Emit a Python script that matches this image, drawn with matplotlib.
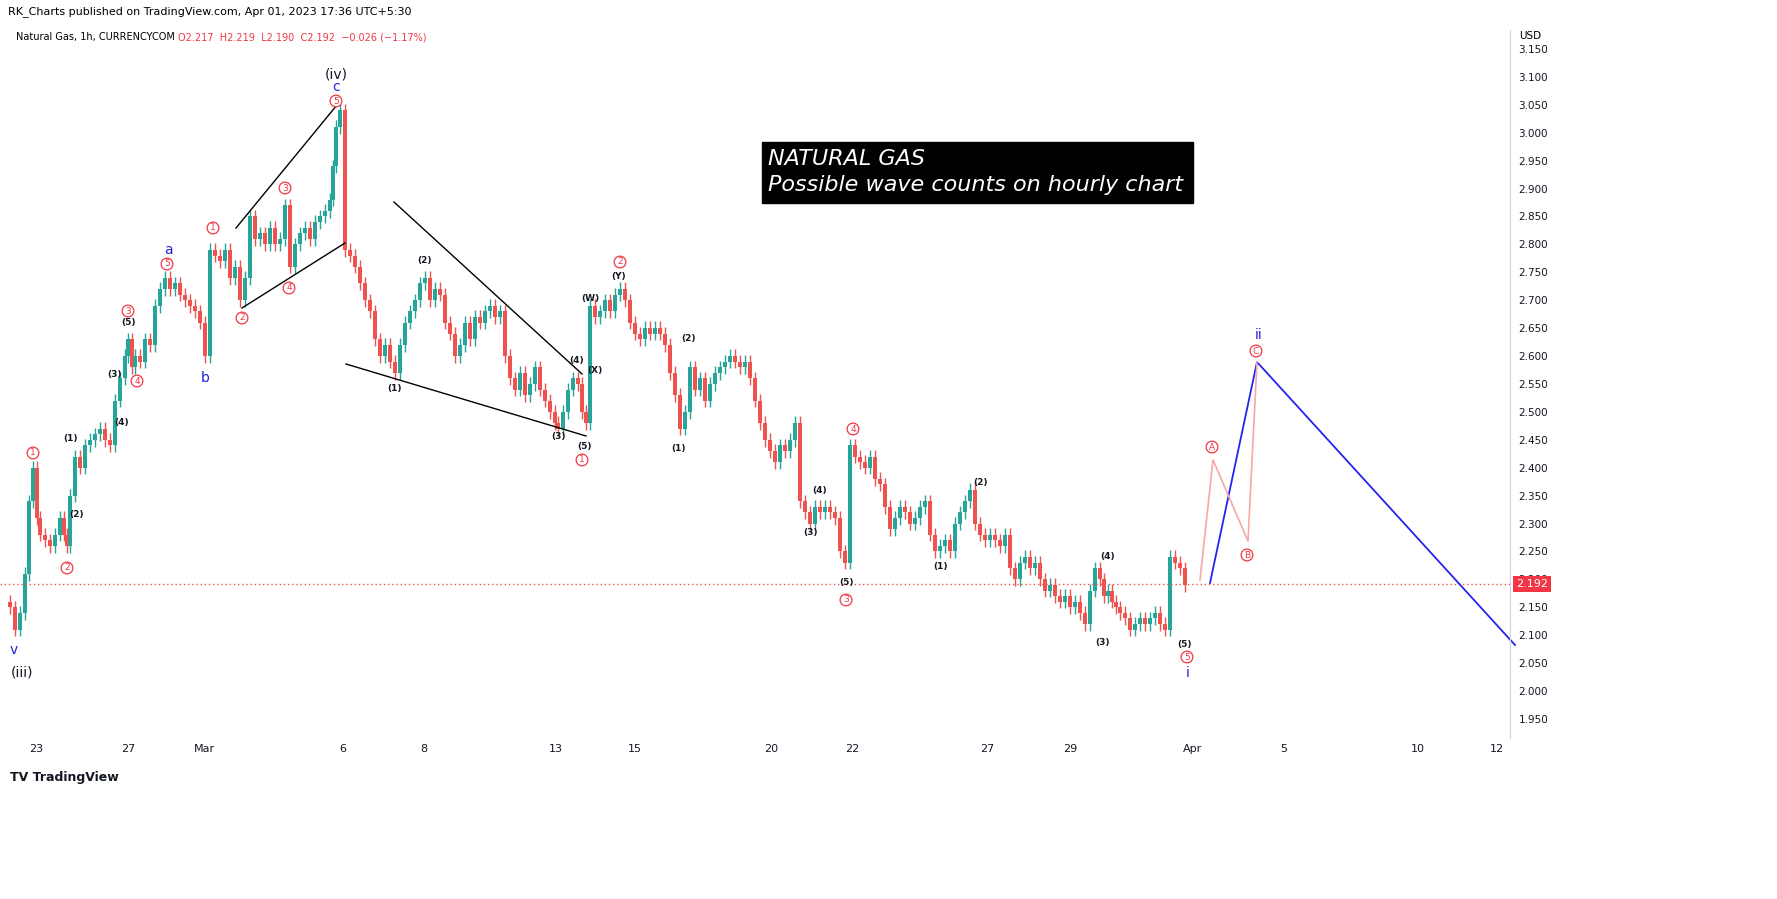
import matplotlib
matplotlib.use("Agg")
import matplotlib.pyplot as plt
from matplotlib.patches import Rectangle

# time axis positions (chart units) and closes
xs = [10,15,20,25,29,33,37,40,45,50,55,60,64,67,70,75,80,85,90,95,100,105,110,115,120,125,128,132,135,140,145,150,155,160,165,170,175,180,185,190,195,200,205,210,215,220,225,230,235,240,245,250,255,260,265,270,275,280,285,290,295,300,305,310,315,320,325,330,333,336,340,345,350,355,360,365,370,375,380,385,390,395,400,405,410,415,420,425,430,435,440,445,450,455,460,465,470,475,480,485,490,495,500,505,510,515,520,525,530,535,540,545,550,555,558,563,568,573,578,582,586,590,595,600,605,610,615,620,625,630,635,640,645,650,655,660,665,670,675,680,685,690,695,700,705,710,715,720,725,730,735,740,745,750,755,760,765,770,775,780,785,790,795,800,805,810,815,820,825,830,835,840,845,850,855,860,865,870,875,880,885,890,895,900,905,910,915,920,925,930,935,940,945,950,955,960,965,970,975,980,985,990,995,1000,1005,1010,1015,1020,1025,1030,1035,1040,1045,1050,1055,1060,1065,1070,1075,1080,1085,1090,1095,1100,1104,1108,1112,1116,1120,1125,1130,1135,1140,1145,1150,1155,1160,1165,1170,1175,1180,1185,1189,1193,1197,1201]
closes = [2.15,2.11,2.14,2.21,2.34,2.40,2.31,2.28,2.27,2.26,2.28,2.31,2.28,2.26,2.35,2.42,2.40,2.44,2.45,2.46,2.47,2.45,2.44,2.52,2.56,2.60,2.63,2.58,2.60,2.59,2.63,2.62,2.69,2.72,2.74,2.72,2.73,2.71,2.70,2.69,2.68,2.66,2.60,2.79,2.78,2.77,2.79,2.74,2.76,2.70,2.74,2.85,2.81,2.82,2.80,2.83,2.80,2.81,2.87,2.76,2.80,2.82,2.83,2.81,2.84,2.85,2.86,2.88,2.94,3.01,3.04,2.79,2.78,2.76,2.73,2.70,2.68,2.63,2.60,2.62,2.59,2.57,2.62,2.66,2.68,2.70,2.73,2.74,2.70,2.72,2.71,2.66,2.64,2.60,2.62,2.66,2.63,2.67,2.66,2.68,2.69,2.67,2.68,2.60,2.56,2.54,2.57,2.53,2.55,2.58,2.54,2.52,2.50,2.48,2.47,2.50,2.54,2.56,2.55,2.50,2.48,2.69,2.67,2.68,2.70,2.68,2.71,2.72,2.70,2.66,2.64,2.63,2.65,2.64,2.65,2.64,2.62,2.57,2.53,2.47,2.50,2.58,2.54,2.56,2.52,2.55,2.57,2.58,2.59,2.60,2.59,2.58,2.59,2.56,2.52,2.48,2.45,2.43,2.41,2.44,2.43,2.45,2.48,2.34,2.32,2.30,2.33,2.32,2.33,2.32,2.31,2.25,2.23,2.44,2.42,2.41,2.40,2.42,2.38,2.37,2.33,2.29,2.31,2.33,2.32,2.30,2.31,2.33,2.34,2.28,2.25,2.26,2.27,2.25,2.30,2.32,2.34,2.36,2.30,2.28,2.27,2.28,2.27,2.26,2.28,2.22,2.20,2.23,2.24,2.22,2.23,2.20,2.18,2.19,2.17,2.16,2.17,2.15,2.16,2.14,2.12,2.18,2.22,2.20,2.17,2.18,2.16,2.15,2.14,2.13,2.11,2.12,2.13,2.12,2.13,2.14,2.12,2.11,2.24,2.23,2.22,2.19]
last_price = 2.192
tick_pos = [36,128,204,343,424,556,635,771,852,987,1070,1193,1284,1418,1497]
tick_lbl = ["23","27","Mar","6","8","13","15","20","22","27","29","Apr","5","10","12"]
price_ticks = [1.95+0.05*i for i in range(25)]

W, H = 1777, 899
fig = plt.figure(figsize=(W/100, H/100), dpi=100)
ax = fig.add_axes([0, 1-738/H, 1510/W, 708/H])
def P(ypx):
    return 3.15 - (ypx-49)/558.3
ax.set_xlim(0, 1510)
ax.set_ylim(P(738), P(30))

prev = closes[0] + 0.01
for x, c in zip(xs, closes):
    o = prev
    col = "#26a69a" if c >= o else "#ef5350"
    ax.vlines(x, min(o, c) - 0.012, max(o, c) + 0.012, color=col, lw=1)
    ax.add_patch(Rectangle((x-1.8, min(o, c)), 3.6, max(abs(c-o), 0.002), color=col, lw=0))
    prev = c

ax.axhline(last_price, color="#ef5350", ls=(0, (1, 2)), lw=1)

ax.yaxis.tick_right()
ax.set_yticks(price_ticks)
ax.set_yticklabels([f"{p:.3f}" for p in price_ticks], fontsize=7.5, color="#131722")
ax.set_xticks(tick_pos)
ax.set_xticklabels(tick_lbl, fontsize=8, color="#131722")
ax.tick_params(axis="x", length=0, pad=4)
ax.tick_params(axis="y", length=0, pad=6)
for s in ["top", "left", "bottom"]:
    ax.spines[s].set_visible(False)
ax.spines["right"].set_color("#d1d4dc")
ax.text(1.006, P(36), "USD", transform=ax.get_yaxis_transform(), fontsize=7.5, va="center")
ax.text(1.004, last_price, "2.192", transform=ax.get_yaxis_transform(), fontsize=8, va="center",
        color="white", bbox=dict(boxstyle="square,pad=0.3", fc="#f23645", ec="none"))

def circ(x, y, t, c="#f23645"):
    ax.text(x, P(y), t, fontsize=6.5, color=c, ha="center", va="center",
            bbox=dict(boxstyle="circle,pad=0.15", fc="white", ec=c, lw=0.9))
def sm(x, y, t):
    ax.text(x, P(y), t, fontsize=6.5, color="#131722", ha="center", va="center", fontweight="bold")
def bl(x, y, t, fs=10):
    ax.text(x, P(y), t, fontsize=fs, color="#2424d6", ha="center", va="center")

for x, y, t in [(33,453,"1"),(67,568,"2"),(128,311,"3"),(137,381,"4"),(167,264,"5"),(213,228,"1"),
                (242,318,"2"),(285,188,"3"),(289,288,"4"),(336,101,"5"),(620,262,"2"),(582,460,"1"),
                (853,429,"4"),(846,600,"3"),(1187,657,"5"),(1212,447,"A"),(1247,555,"B"),(1256,351,"C")]:
    circ(x, y, t)
for x, y, t in [(71,439,"(1)"),(77,515,"(2)"),(115,375,"(3)"),(122,422,"(4)"),(128,323,"(5)"),(395,389,"(1)"),
                (424,260,"(2)"),(558,437,"(3)"),(577,361,"(4)"),(584,447,"(5)"),(590,298,"(W)"),(595,371,"(X)"),
                (619,276,"(Y)"),(689,338,"(2)"),(678,449,"(1)"),(820,491,"(4)"),(810,533,"(3)"),(846,583,"(5)"),
                (941,566,"(1)"),(981,482,"(2)"),(1108,556,"(4)"),(1102,642,"(3)"),(1185,645,"(5)")]:
    sm(x, y, t)
for x, y, t in [(14,650,"v"),(168,250,"a"),(205,378,"b"),(336,87,"c"),(1259,335,"ii"),(1188,673,"i")]:
    bl(x, y, t)
ax.text(22, P(672), "(iii)", fontsize=10, ha="center", va="center", color="#131722")
ax.text(336, P(74), "(iv)", fontsize=10, ha="center", va="center", color="#131722")

for (x1, y1, x2, y2) in [(236,228,337,105),(242,308,345,243),(394,202,582,374),(346,364,586,436)]:
    ax.plot([x1, x2], [P(y1), P(y2)], color="black", lw=1)
ax.plot([1210, 1257, 1515], [P(583), P(362), P(645)], color="#2424f0", lw=1.3, clip_on=False)
ax.plot([1200, 1213, 1248, 1257], [P(580), P(460), P(541), P(362)], color="#f7a8a8", lw=1.2)

ax.add_patch(Rectangle((762, P(203)), 431, P(142)-P(203), color="black", zorder=5))
ax.text(768, P(159), "NATURAL GAS", fontsize=16, style="italic", color="white", va="center", zorder=6)
ax.text(768, P(185), "Possible wave counts on hourly chart", fontsize=16, style="italic", color="white", va="center", zorder=6)

fig.text(8/W, 1-12/H, "RK_Charts published on TradingView.com, Apr 01, 2023 17:36 UTC+5:30", fontsize=8, va="center")
fig.text(16/W, 1-37/H, "Natural Gas, 1h, CURRENCYCOM", fontsize=7, va="center")
fig.text(178/W, 1-37/H, "O2.217  H2.219  L2.190  C2.192  \u22120.026 (\u22121.17%)", fontsize=7, va="center", color="#f23645")
fig.text(10/W, 1-777/H, "TV TradingView", fontsize=9, va="center", fontweight="bold", color="#131722")
fig.savefig("out.png", dpi=100, facecolor="white")
